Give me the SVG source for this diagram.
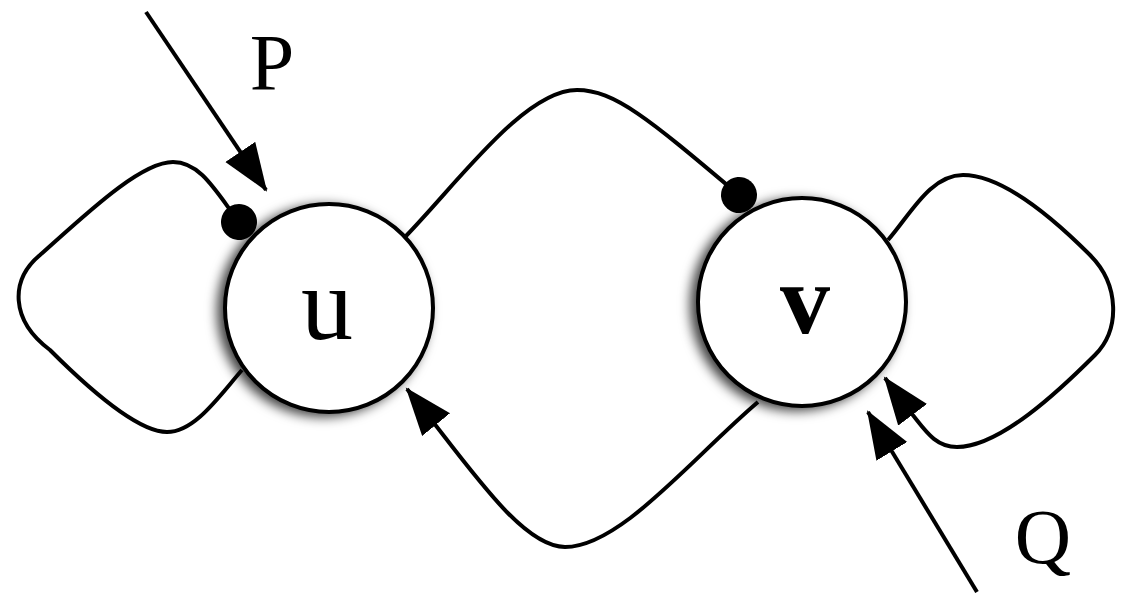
<svg xmlns="http://www.w3.org/2000/svg" width="1138" height="593" viewBox="0 0 1138 593">
<style>
.node{fill:#fff;stroke:#000;stroke-width:4;filter:url(#sh)}
.edge{fill:none;stroke:#000;stroke-width:4}
.lbl{font-family:"Liberation Serif","DejaVu Serif",serif;fill:#000;text-anchor:middle}
</style>
<defs>
<filter id="sh" x="-30%" y="-30%" width="160%" height="160%">
<feDropShadow dx="-6" dy="3" stdDeviation="6" flood-color="#000" flood-opacity="0.75"/>
</filter>
<marker id="arr" markerUnits="userSpaceOnUse" markerWidth="50" markerHeight="40" viewBox="0 0 50 40" refX="46" refY="18" orient="auto">
<path d="M0,0 L48,18 L0,36 Z" fill="#000"/>
</marker>
<marker id="dot" markerUnits="userSpaceOnUse" markerWidth="40" markerHeight="40" viewBox="0 0 40 40" refX="20" refY="20" orient="auto">
<circle cx="20" cy="20" r="18" fill="#000"/>
</marker>
</defs>
<rect width="1138" height="593" fill="#fff"/>
<g id="node-u">
<circle class="node" cx="329" cy="308" r="104"/>
<text class="lbl" x="327" y="339" font-size="104">u</text>
</g>
<g id="node-v">
<circle class="node" cx="802" cy="302" r="104"/>
<text class="lbl" x="805" y="333" font-size="100" font-weight="bold">v</text>
</g>
<g id="connectors">
<path class="edge" marker-end="url(#dot)" d="M242,370 C220,395 195,432 167,432 C140,432 95,395 50,350 C10,320 10,280 40,255 C85,215 140,162 173,162 C200,162 215,190 239,222"/>
<path class="edge" marker-end="url(#dot)" d="M406,236 C460,180 525,90 577,90 C615,90 650,120 739,195"/>
<path class="edge" marker-end="url(#arr)" d="M758,402 C690,460 620,547 565,547 C520,547 465,460 407,389"/>
<path class="edge" marker-end="url(#arr)" d="M888,240 C910,215 930,175 963,175 C1005,175 1060,225 1090,255 C1120,285 1120,330 1095,355 C1060,390 1000,447 957,447 C935,447 925,430 912,414 L885,378"/>
<path class="edge" marker-end="url(#arr)" d="M146,12 L266,190"/>
<path class="edge" marker-end="url(#arr)" d="M977,592 L868,412"/>
</g>
<g id="labels">
<text class="lbl" x="272" y="90" font-size="80">P</text>
<text class="lbl" x="1043" y="563" font-size="78">Q</text>
</g>
</svg>
